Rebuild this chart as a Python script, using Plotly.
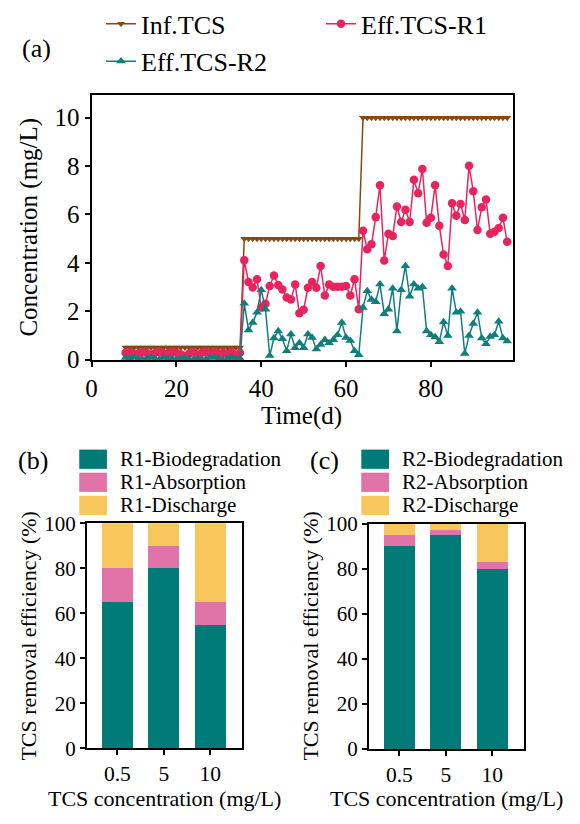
import plotly.graph_objects as go

# ---------------- data ----------------
days = [8, 9, 10, 11, 12, 13, 14, 15, 16, 17, 18, 19, 20, 21, 22, 23, 24, 25, 26, 27,
        28, 29, 30, 31, 32, 33, 34, 35,
        36, 37, 38, 39, 40, 41, 42, 43, 44, 45, 46, 47, 48, 49, 50, 51, 52, 53, 54, 55,
        56, 57, 58, 59, 60, 61, 62, 63,
        64, 65, 66, 67, 68, 69, 70, 71, 72, 73, 74, 75, 76, 77, 78, 79, 80, 81, 82, 83,
        84, 85, 86, 87, 88, 89, 90, 91, 92, 93, 94, 95, 96, 97, 98]

inf_tcs = [0.5, 0.5, 0.5, 0.5, 0.5, 0.5, 0.5, 0.5, 0.5, 0.5, 0.5, 0.5, 0.5, 0.5,
           0.5, 0.5, 0.5, 0.5, 0.5, 0.5, 0.5, 0.5, 0.5, 0.5, 0.5, 0.5, 0.5, 0.5,
           5, 5, 5, 5, 5, 5, 5, 5, 5, 5, 5, 5, 5, 5,
           5, 5, 5, 5, 5, 5, 5, 5, 5, 5, 5, 5, 5, 5,
           10, 10, 10, 10, 10, 10, 10, 10, 10, 10, 10, 10, 10, 10, 10, 10, 10, 10,
           10, 10, 10, 10, 10, 10, 10, 10, 10, 10, 10, 10, 10, 10, 10, 10, 10]

eff_r1 = [0.28, 0.30, 0.25, 0.22, 0.30, 0.27, 0.20, 0.28, 0.30, 0.24, 0.26, 0.30, 0.28, 0.22,
          0.15, 0.25, 0.30, 0.18, 0.28, 0.30, 0.26, 0.30, 0.22, 0.28, 0.25, 0.30, 0.20, 0.28,
          4.11, 3.21, 2.98, 3.32, 2.15, 2.31, 3.04, 3.48, 3.08, 2.90, 2.57, 2.48, 3.10, 1.92,
          2.06, 2.97, 3.21, 2.97, 3.87, 2.65, 3.10, 3.01, 3.01, 3.01, 3.04, 2.65, 3.32, 2.08,
          5.33, 4.56, 4.77, 5.89, 7.21, 4.10, 5.20, 5.11, 6.33, 5.69, 6.19, 5.69, 7.43, 6.88,
          7.88, 5.66, 5.86, 7.21, 5.53, 4.34, 3.87, 6.46, 5.95, 6.43, 5.77, 8.01, 6.96, 5.36,
          6.30, 6.62, 5.20, 5.29, 5.44, 5.86, 4.87]

eff_r2 = [0.08, 0.05, 0.10, 0.02, 0.00, 0.06, 0.10, 0.04, 0.00, 0.08, 0.02, 0.05, 0.00, 0.03,
          0.08, 0.02, 0.00, 0.05, 0.00, 0.02, 0.08, 0.10, 0.03, 0.00, 0.05, 0.08, 0.02, 0.05,
          2.32, 1.22, 1.53, 1.95, 2.88, 2.08, 0.16, 0.89, 1.18, 0.86, 0.36, 1.05, 0.49, 0.69,
          0.49, 1.05, 0.91, 0.43, 0.62, 0.82, 0.69, 0.82, 1.02, 1.53, 0.91, 0.78, 0.36, 0.20,
          2.15, 2.84, 2.48, 2.39, 3.12, 1.89, 2.08, 2.94, 1.18, 2.88, 3.87, 2.61, 3.12, 2.94,
          3.01, 1.18, 1.02, 0.93, 0.73, 1.55, 0.99, 2.94, 1.95, 1.99, 0.25, 0.99, 1.49, 1.95,
          0.89, 0.65, 0.95, 1.02, 1.58, 0.89, 0.76]

time_ticks = [0, 20, 40, 60, 80]
conc_ticks = [0, 2, 4, 6, 8, 10]

conc_labels = ["0.5", "5", "10"]
r1_bio = [65, 80, 55]
r1_abs = [15, 10, 10]
r1_dis = [20, 10, 35]
r2_bio = [90, 95, 80]
r2_abs = [5, 2, 3]
r2_dis = [5, 3, 17]
eff_ticks = [0, 20, 40, 60, 80, 100]

# ---------------- styling ----------------
W, H = 580, 824
FONT = "Liberation Serif, Times New Roman, serif"
C_INF = "#87490E"
C_R1 = "#E8245F"
C_R2 = "#0E7F7C"
C_BIO = "#007B77"
C_ABS = "#E074A8"
C_DIS = "#F7C75E"


def fx(x):
    return x / W


def fy(y):
    return 1 - y / H


fig = go.Figure()

# top panel
fig.add_trace(go.Scatter(x=days, y=inf_tcs, name="Inf.TCS", mode="lines+markers",
                         line=dict(color=C_INF, width=1.5),
                         marker=dict(symbol="triangle-down", size=7, color=C_INF),
                         cliponaxis=False, legend="legend", xaxis="x", yaxis="y"))
fig.add_trace(go.Scatter(x=days, y=eff_r1, name="Eff.TCS-R1", mode="lines+markers",
                         line=dict(color=C_R1, width=1.5),
                         marker=dict(symbol="circle", size=8.5, color=C_R1),
                         cliponaxis=False, legend="legend", xaxis="x", yaxis="y"))
fig.add_trace(go.Scatter(x=days, y=eff_r2, name="Eff.TCS-R2", mode="lines+markers",
                         line=dict(color=C_R2, width=1.5),
                         marker=dict(symbol="triangle-up", size=8.5, color=C_R2),
                         cliponaxis=False, legend="legend2", xaxis="x", yaxis="y"))

# bottom panels
for vals, col in [(r1_bio, C_BIO), (r1_abs, C_ABS), (r1_dis, C_DIS)]:
    fig.add_trace(go.Bar(x=conc_labels, y=vals, marker=dict(color=col, line=dict(width=0)),
                         width=0.667, showlegend=False, xaxis="x2", yaxis="y2"))
for vals, col in [(r2_bio, C_BIO), (r2_abs, C_ABS), (r2_dis, C_DIS)]:
    fig.add_trace(go.Bar(x=conc_labels, y=vals, marker=dict(color=col, line=dict(width=0)),
                         width=0.667, showlegend=False, xaxis="x3", yaxis="y3"))

axis_common = dict(showline=True, linewidth=2, linecolor="black", mirror=True,
                   ticks="outside", tickwidth=2, ticklen=5, tickcolor="black",
                   showgrid=False, zeroline=False)

fig.update_layout(
    width=W, height=H,
    margin=dict(l=0, r=0, t=0, b=0),
    paper_bgcolor="white", plot_bgcolor="white",
    font=dict(family=FONT, color="black"),
    barmode="stack",
    xaxis=dict(domain=[fx(86.5), fx(512)], range=[0, 99.3], tickvals=time_ticks,
               tickfont=dict(size=25), anchor="y", **axis_common),
    yaxis=dict(domain=[fy(356), fy(81)], range=[0, 10.94], tickvals=conc_ticks,
               tickfont=dict(size=25), anchor="x", **axis_common),
    xaxis2=dict(domain=[fx(81.7), fx(238)], type="category", range=[-0.657, 2.676],
                tickfont=dict(size=21.5), anchor="y2", **axis_common),
    yaxis2=dict(domain=[fy(760), fy(526)], range=[0, 100], tickvals=eff_ticks,
                tickfont=dict(size=21), anchor="x2", **axis_common),
    xaxis3=dict(domain=[fx(366.7), fx(523)], type="category", range=[-0.657, 2.676],
                tickfont=dict(size=21.5), anchor="y3", **axis_common),
    yaxis3=dict(domain=[fy(760.5), fy(526.5)], range=[0, 100], tickvals=eff_ticks,
                tickfont=dict(size=21), anchor="x3", **axis_common),
    legend=dict(orientation="h", x=fx(96), xanchor="left", y=fy(7), yanchor="middle",
                font=dict(size=26), bgcolor="rgba(0,0,0,0)", entrywidth=175,
                itemwidth=30, traceorder="normal"),
    legend2=dict(orientation="h", x=fx(96), xanchor="left", y=fy(46), yanchor="middle",
                 font=dict(size=26), bgcolor="rgba(0,0,0,0)", itemwidth=30,
                 traceorder="normal"),
)

annotations = []


def ann(text, x, y, size, angle=0, xanchor="center"):
    annotations.append(dict(text=text, x=fx(x), y=fy(y), xref="paper", yref="paper",
                            showarrow=False, xanchor=xanchor, yanchor="middle",
                            borderpad=0,
                            textangle=angle, font=dict(size=size, family=FONT, color="black")))


ann("(a)", 31, 33, 26)
ann("(b)", 27.5, 461, 26)
ann("(c)", 322, 461, 26)
ann("Concentration (mg/L)", 23, 218, 25, angle=-90)
ann("Time(d)", 299, 415, 25)
ann("TCS removal efficiency (%)", 23, 643, 22, angle=-90)
ann("TCS removal efficiency (%)", 308, 643, 22, angle=-90)
ann("TCS concentration (mg/L)", 160, 812, 22)
ann("TCS concentration (mg/L)", 445, 812, 22)

legend_rows = [(459, 449.5, 469.5), (483, 473.5, 493.5), (507, 497.5, 517.5)]
names_b = ["R1-Biodegradation", "R1-Absorption", "R1-Discharge"]
names_c = ["R2-Biodegradation", "R2-Absorption", "R2-Discharge"]
cols = [C_BIO, C_ABS, C_DIS]
shapes = []
for (yc, y0, y1), nb, nc, col in zip(legend_rows, names_b, names_c, cols):
    shapes.append(dict(type="rect", xref="paper", yref="paper", x0=fx(74), x1=fx(102),
                       y0=fy(y1), y1=fy(y0), fillcolor=col, line=dict(width=0)))
    shapes.append(dict(type="rect", xref="paper", yref="paper", x0=fx(359), x1=fx(387),
                       y0=fy(y1), y1=fy(y0), fillcolor=col, line=dict(width=0)))
    ann(nb, 114, yc, 21, xanchor="left")
    ann(nc, 399, yc, 21, xanchor="left")

fig.update_layout(annotations=annotations, shapes=shapes)

fig.write_html("out.html", config={"displayModeBar": False},
               post_script="document.body.style.margin='0px';")
